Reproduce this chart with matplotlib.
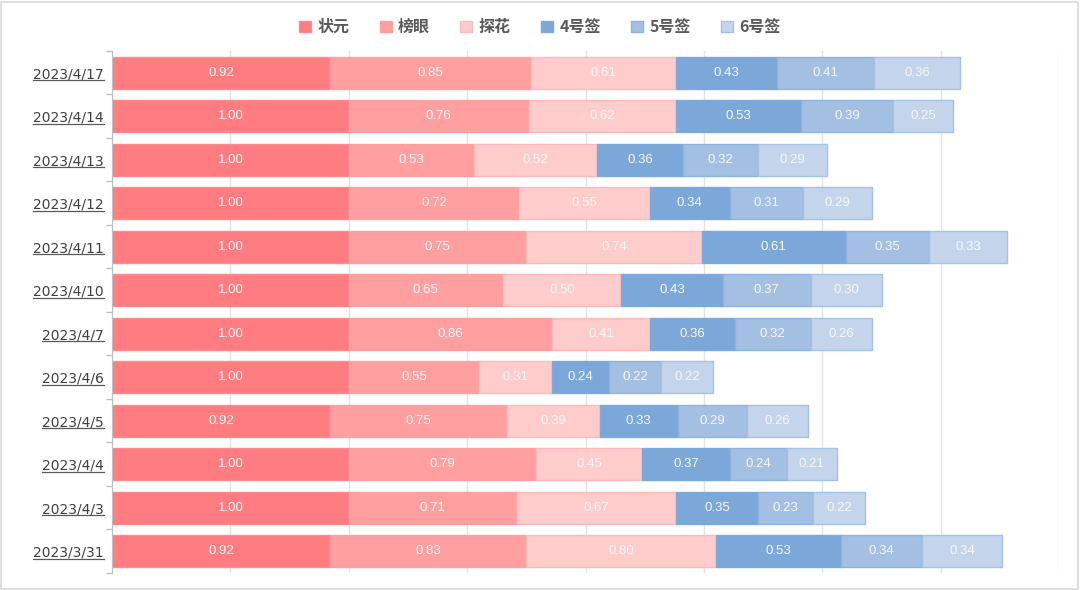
import numpy as np
import matplotlib
matplotlib.use("Agg")
from matplotlib import pyplot as plt
from matplotlib.patches import Patch, Rectangle
from matplotlib.lines import Line2D

plt.rcParams['font.family'] = ['DejaVu Sans', 'Noto Sans CJK SC']

dates = ["2023/4/17", "2023/4/14", "2023/4/13", "2023/4/12", "2023/4/11", "2023/4/10",
         "2023/4/7", "2023/4/6", "2023/4/5", "2023/4/4", "2023/4/3", "2023/3/31"]
series = ["状元", "榜眼", "探花", "4号签", "5号签", "6号签"]

zhuangyuan = [0.92, 1.00, 1.00, 1.00, 1.00, 1.00, 1.00, 1.00, 0.92, 1.00, 1.00, 0.92]
bangyan    = [0.85, 0.76, 0.53, 0.72, 0.75, 0.65, 0.86, 0.55, 0.75, 0.79, 0.71, 0.83]
tanhua     = [0.61, 0.62, 0.52, 0.55, 0.74, 0.50, 0.41, 0.31, 0.39, 0.45, 0.67, 0.80]
qian4      = [0.43, 0.53, 0.36, 0.34, 0.61, 0.43, 0.36, 0.24, 0.33, 0.37, 0.35, 0.53]
qian5      = [0.41, 0.39, 0.32, 0.31, 0.35, 0.37, 0.32, 0.22, 0.29, 0.24, 0.23, 0.34]
qian6      = [0.36, 0.25, 0.29, 0.29, 0.33, 0.30, 0.26, 0.22, 0.26, 0.21, 0.22, 0.34]

colors = ["#FF7C80", "#FF9F9F", "#FFCCCC", "#7BA8D8", "#A3BFE2", "#C4D5EB"]
edges = ["#FF8A8E", "#FF9F9F", "#FFB9B9", "#7FA9DA", "#8FB3E0", "#A4C1E6"]

fig = plt.figure(figsize=(10.8, 5.9), dpi=100)
ax = fig.add_axes([0.1037, 0.0288, 0.877, 0.885])

y = np.arange(len(dates))
left = np.zeros(len(dates))
data = [zhuangyuan, bangyan, tanhua, qian4, qian5, qian6]
for name, vals, c, ec in zip(series, data, colors, edges):
    vals = np.array(vals)
    bars = ax.barh(y, vals, left=left, height=0.74, color=c, edgecolor=ec,
                   linewidth=1, label=name, zorder=2)
    for b, v in zip(bars, vals):
        ax.text(b.get_x() + b.get_width() / 2, b.get_y() + b.get_height() / 2,
                f"{v:.2f}", ha='center', va='center', color='#F7F7F7', fontsize=9.5,
                family='Liberation Sans', zorder=3)
    left += vals

ax.set_xlim(0, 4)
ax.set_ylim(len(dates) - 0.5, -0.5)
ax.set_xticks(np.arange(0, 4.01, 0.5))
ax.xaxis.grid(True, color='#E3E3E3', linewidth=1, zorder=0)
ax.tick_params(axis='x', length=0, labelbottom=False)
ax.set_yticks(y)
ax.set_yticklabels(dates, fontsize=10, color='#404040')
ax.set_yticks(np.arange(-0.5, len(dates), 1), minor=True)
ax.tick_params(axis='y', which='major', length=0, pad=6)
ax.tick_params(axis='y', which='minor', length=4, color='#BFBFBF', width=1)
for s in ['top', 'right', 'bottom']:
    ax.spines[s].set_visible(False)
ax.spines['left'].set_color('#BFBFBF')

handles = [Patch(facecolor=c, edgecolor=ec) for c, ec in zip(colors, edges)]
leg = fig.legend(handles, series, loc='center', bbox_to_anchor=(0.5, 0.954), ncol=6,
                 frameon=False, handlelength=0.75, handleheight=0.75, handletextpad=0.4,
                 columnspacing=1.9, prop={'family': 'Noto Sans CJK SC', 'weight': 'bold', 'size': 11.5})
for t in leg.get_texts():
    t.set_color('#595959')

# figure border
fig.patches.append(Rectangle((0.001, 0.002), 0.997, 0.995, transform=fig.transFigure,
                             fill=False, edgecolor='#D9D9D9', linewidth=1.2))

# underline the date labels
fig.canvas.draw()
r = fig.canvas.get_renderer()
inv = fig.transFigure.inverted()
for lab in ax.get_yticklabels():
    bb = lab.get_window_extent(r)
    (x0, y0), (x1, _) = inv.transform([(bb.x0, bb.y0 + 1), (bb.x1, bb.y0 + 1)])
    fig.lines.append(Line2D([x0, x1], [y0, y0], transform=fig.transFigure,
                            color='#595959', linewidth=0.9))

fig.savefig("out.png", dpi=100)
